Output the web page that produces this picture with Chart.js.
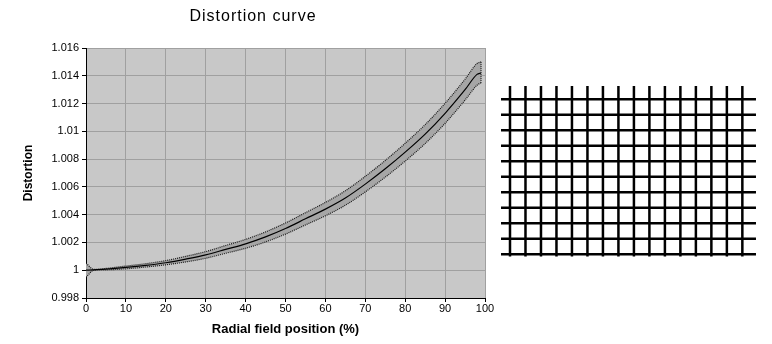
<!DOCTYPE html>
<html>
<head>
<meta charset="utf-8">
<script src="https://cdn.jsdelivr.net/npm/chart.js@4/dist/chart.umd.min.js"></script>
<style>
  html, body { margin: 0; padding: 0; background: #fff; }
  #wrap { position: relative; width: 772px; height: 344px; overflow: hidden; }
  #chartCurva { position: absolute; left: 0; top: 0; }
  #chartRejilla { position: absolute; left: 490px; top: 70px; }
</style>
</head>
<body>
<div id="wrap">
  <canvas id="chartCurva" width="506" height="344"></canvas>
  <canvas id="chartRejilla" width="280" height="200"></canvas>
</div>
<script>
// Posición radial (%) y distorsión medida: curva central y banda superior / inferior
const posicionRadial = [0, 2, 5, 10, 15, 20, 25, 30, 35, 40, 45, 50, 55, 60, 65, 70, 75, 80, 85, 90, 95, 98, 99];
const distorsionMedia = [1.0000, 1.00003, 1.00008, 1.0002, 1.00035, 1.00054, 1.0008, 1.0011, 1.0015, 1.0019, 1.0024, 1.0030, 1.0037, 1.0044, 1.0052, 1.0062, 1.0073, 1.0085, 1.0098, 1.0113, 1.0130, 1.0141, 1.0142];
const distorsionMax = [1.0005, 1.00006, 1.00013, 1.0003, 1.00047, 1.00069, 1.0010, 1.00134, 1.00178, 1.00222, 1.00276, 1.0034, 1.00414, 1.00488, 1.00572, 1.00676, 1.0079, 1.00914, 1.01048, 1.01202, 1.01375, 1.01488, 1.0150];
const distorsionMin = [0.9995, 1.0000, 1.00003, 1.0001, 1.00023, 1.00039, 1.0006, 1.00086, 1.00122, 1.00158, 1.00204, 1.0026, 1.00326, 1.00392, 1.00468, 1.00564, 1.0067, 1.00786, 1.00912, 1.01058, 1.01225, 1.01332, 1.0135];

// Etiquetas de los ejes (formato "general")
const ticksDistorsion = ['0.998', '1', '1.002', '1.004', '1.006', '1.008', '1.01', '1.012', '1.014', '1.016'];
const ticksRadial = ['0', '10', '20', '30', '40', '50', '60', '70', '80', '90', '100'];

// Rejilla de ejemplo: columnas y filas, con el alcance de cada línea
const columnasRejilla = [0, 1, 2, 3, 4, 5, 6, 7, 8, 9, 10, 11, 12, 13, 14, 15];
const filasRejilla = [0, 1, 2, 3, 4, 5, 6, 7, 8, 9, 10];
const limitesVerticales = [-0.85, 10.15];
const limitesHorizontales = [-0.58, 15.88];

Chart.defaults.font.family = '"Liberation Sans", Arial, sans-serif';
Chart.defaults.color = '#000';

function puntos(xs, ys) {
  return xs.map((x, i) => ({ x: x, y: ys[i] }));
}

const fondoArea = {
  id: 'fondoArea',
  beforeDraw(chart) {
    const { ctx, chartArea } = chart;
    ctx.save();
    ctx.fillStyle = '#c8c8c8';
    ctx.fillRect(chartArea.left, chartArea.top, chartArea.right - chartArea.left, chartArea.bottom - chartArea.top);
    ctx.restore();
  }
};

const tituloCurva = {
  id: 'tituloCurva',
  afterDraw(chart) {
    const ctx = chart.ctx;
    ctx.save();
    ctx.font = '16px "Liberation Sans", Arial, sans-serif';
    ctx.letterSpacing = '1px';
    ctx.fillStyle = '#000';
    ctx.textAlign = 'center';
    ctx.textBaseline = 'middle';
    ctx.fillText('Distortion curve', chart.width / 2, 17);
    ctx.restore();
  }
};

const ultimo = posicionRadial.length - 1;
const bordeBanda = { borderColor: '#1a1a1a', borderWidth: 1.2, borderDash: [1, 1], pointRadius: 0 };

// Chart.js pinta el dataset 0 encima: la curva central va primero
window._chartCurva = new Chart(document.getElementById('chartCurva'), {
  type: 'line',
  data: {
    datasets: [
      {
        label: 'Distortion',
        data: puntos(posicionRadial, distorsionMedia),
        borderColor: '#000',
        borderWidth: 1.2,
        fill: false,
        pointRadius: 0,
        cubicInterpolationMode: 'monotone'
      },
      Object.assign({
        label: 'max',
        data: puntos(posicionRadial, distorsionMax),
        backgroundColor: '#a6a6a6',
        fill: '+1',
        cubicInterpolationMode: 'monotone'
      }, bordeBanda),
      Object.assign({
        label: 'min',
        data: puntos(posicionRadial, distorsionMin),
        fill: false,
        cubicInterpolationMode: 'monotone'
      }, bordeBanda),
      Object.assign({
        label: 'cierre',
        data: [
          { x: posicionRadial[ultimo], y: distorsionMax[ultimo] },
          { x: posicionRadial[ultimo], y: distorsionMin[ultimo] }
        ],
        fill: false
      }, bordeBanda)
    ]
  },
  options: {
    responsive: false,
    animation: false,
    devicePixelRatio: 1,
    layout: { padding: { left: 0, top: 48, right: 21, bottom: 0 } },
    plugins: {
      legend: { display: false },
      tooltip: { enabled: false },
      filler: { drawTime: 'beforeDatasetsDraw' }
    },
    scales: {
      x: {
        type: 'linear',
        min: 0,
        max: 100,
        ticks: {
          stepSize: 10,
          padding: 0,
          font: { size: 11 },
          maxRotation: 0,
          callback: (v, i) => ticksRadial[i]
        },
        grid: { color: '#a0a0a0', tickColor: '#000', tickLength: 4 },
        border: { color: '#000', width: 1 },
        title: {
          display: true,
          text: 'Radial field position (%)',
          font: { size: 13, weight: 'bold' },
          padding: { top: 0, bottom: 7 }
        },
        afterFit(scale) { scale.height = 46; }
      },
      y: {
        type: 'linear',
        min: 0.998,
        max: 1.016,
        ticks: {
          stepSize: 0.002,
          padding: 3,
          font: { size: 11 },
          callback: (v, i) => ticksDistorsion[i]
        },
        grid: { color: '#a0a0a0', tickColor: '#000', tickLength: 4 },
        border: { color: '#000', width: 1 },
        title: {
          display: true,
          text: 'Distortion',
          font: { size: 12, weight: 'bold' },
          padding: { top: 21, bottom: 0 }
        },
        afterFit(scale) { scale.width = 86; }
      }
    }
  },
  plugins: [fondoArea, tituloCurva]
});

// Rejilla: una serie por cada línea vertical y horizontal
const lineasRejilla = [];
columnasRejilla.forEach(c => {
  lineasRejilla.push({
    data: [{ x: c, y: limitesVerticales[0] }, { x: c, y: limitesVerticales[1] }]
  });
});
filasRejilla.forEach(f => {
  lineasRejilla.push({
    data: [{ x: limitesHorizontales[0], y: f }, { x: limitesHorizontales[1], y: f }]
  });
});
lineasRejilla.forEach(d => {
  d.showLine = true;
  d.borderColor = '#000';
  d.borderWidth = 2.5;
  d.pointRadius = 0;
  d.fill = false;
});

window._chartRejilla = new Chart(document.getElementById('chartRejilla'), {
  type: 'scatter',
  data: { datasets: lineasRejilla },
  options: {
    responsive: false,
    animation: false,
    devicePixelRatio: 1,
    layout: { padding: 0 },
    plugins: {
      legend: { display: false },
      tooltip: { enabled: false }
    },
    scales: {
      x: { type: 'linear', display: false, min: -1.291, max: 16.785 },
      y: { type: 'linear', display: false, reverse: true, min: -1.89, max: 11.013 }
    }
  }
});
</script>
</body>
</html>
